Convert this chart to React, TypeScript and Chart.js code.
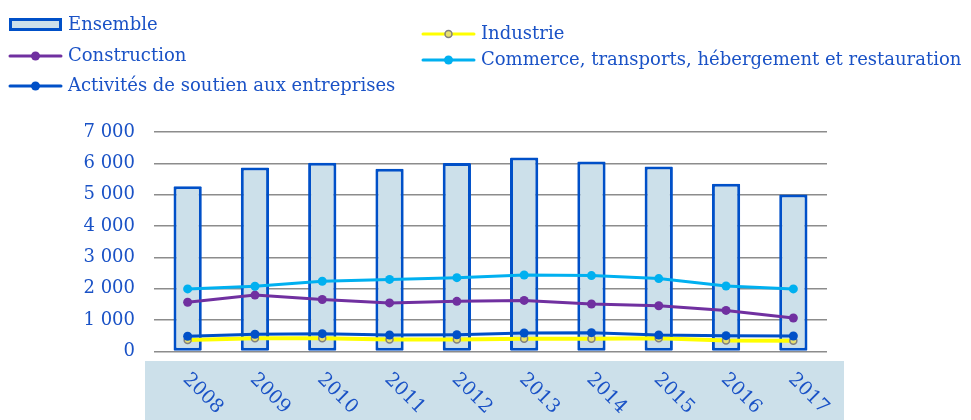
import React, { useEffect, useRef } from 'react';
import { Chart, registerables } from 'chart.js';

Chart.register(...registerables);

// ---- data ----
const years = ['2008', '2009', '2010', '2011', '2012', '2013', '2014', '2015', '2016', '2017'];
const ensemble = [5270, 5870, 6020, 5830, 6010, 6190, 6060, 5900, 5350, 5010];
const industrie = [370, 420, 420, 380, 385, 405, 405, 420, 350, 340];
const construction = [1570, 1800, 1660, 1550, 1600, 1630, 1515, 1460, 1310, 1070];
const commerce = [1995, 2080, 2240, 2300, 2355, 2440, 2420, 2325, 2090, 1995];
const activites = [485, 550, 570, 525, 535, 590, 600, 525, 505, 495];
const yTicks = [0, 1000, 2000, 3000, 4000, 5000, 6000, 7000];

// ---- styles ----
const TEXT = '#1a52c6';
const FONT = '"DejaVu Serif", "Liberation Serif", serif';
const BAR_FILL = '#cce0ea';
const BAR_BORDER = '#0050c8';
const C_CONSTR = '#7030a0';
const C_IND = '#ffff00';
const C_COMM = '#00b0f0';
const C_ACT = '#0050c8';
const GRID = '#8c8c8c';

const fmt = (v: number) => {
  const s = String(Math.round(v));
  return s.length > 3 ? s.slice(0, -3) + ' ' + s.slice(-3) : s;
};

const bandPlugin = {
  id: 'band',
  beforeDraw(chart: any) {
    const { ctx, chartArea, height } = chart;
    ctx.save();
    ctx.fillStyle = BAR_FILL;
    const top = chartArea.bottom + 9.5;
    ctx.fillRect(chartArea.left - 9, top, chartArea.right + 17 - (chartArea.left - 9), height - top);
    ctx.restore();
  },
};

const xLabelPlugin = {
  id: 'xlabels',
  afterDraw(chart: any) {
    const { ctx, chartArea } = chart;
    const xs = chart.scales.x;
    ctx.save();
    ctx.fillStyle = TEXT;
    ctx.font = `19px ${FONT}`;
    ctx.textAlign = 'left';
    ctx.textBaseline = 'middle';
    (chart.data.labels as string[]).forEach((lab, i) => {
      const x = xs.getPixelForTick(i);
      ctx.save();
      ctx.translate(x - 2, chartArea.bottom + 25);
      ctx.rotate(Math.PI / 4);
      ctx.fillText(lab, 0, 0);
      ctx.restore();
    });
    ctx.restore();
  },
};

const legendPlugin = {
  id: 'customLegend',
  afterDraw(chart: any) {
    const { ctx } = chart;
    const ds = chart.data.datasets;
    const items = [
      { i: 0, x: 9, y: 24.5 },
      { i: 3, x: 9, y: 56 },
      { i: 2, x: 9, y: 86 },
      { i: 1, x: 422, y: 34 },
      { i: 4, x: 422, y: 60 },
    ];
    ctx.save();
    ctx.font = `18px ${FONT}`;
    ctx.textBaseline = 'middle';
    ctx.textAlign = 'left';
    items.forEach(({ i, x, y }) => {
      const d = ds[i];
      const w = 53;
      if (d.type === 'bar') {
        ctx.fillStyle = d.backgroundColor;
        ctx.strokeStyle = d.borderColor;
        ctx.lineWidth = 3;
        ctx.fillRect(x + 1.5, y - 5, w - 3, 10);
        ctx.strokeRect(x + 1.5, y - 5, w - 3, 10);
      } else {
        ctx.strokeStyle = d.borderColor;
        ctx.lineWidth = 3;
        ctx.lineCap = 'round';
        ctx.beginPath();
        ctx.moveTo(x + 1, y);
        ctx.lineTo(x + w - 1, y);
        ctx.stroke();
        ctx.beginPath();
        ctx.arc(x + w / 2, y, d.pointRadius, 0, Math.PI * 2);
        ctx.fillStyle = d.pointBackgroundColor;
        ctx.fill();
        if (d.pointBorderWidth) {
          ctx.lineWidth = d.pointBorderWidth;
          ctx.strokeStyle = d.pointBorderColor;
          ctx.stroke();
        }
      }
      ctx.fillStyle = TEXT;
      ctx.fillText(d.label, x + 59, y + 0.5);
    });
    ctx.restore();
  },
};

export default function App() {
  const ref = useRef<HTMLCanvasElement>(null);
  useEffect(() => {
    if (!ref.current) return;
    Chart.defaults.font.family = FONT;
    const chart = new Chart(ref.current, {
      data: {
        labels: years,
        datasets: [
          {
            type: 'bar',
            label: 'Ensemble',
            data: ensemble,
            backgroundColor: BAR_FILL,
            borderColor: BAR_BORDER,
            borderWidth: 3,
            borderSkipped: false,
            borderRadius: 1,
            barPercentage: 0.42,
            categoryPercentage: 1,
            order: 10,
          },
          {
            type: 'line',
            label: 'Industrie',
            data: industrie,
            borderColor: C_IND,
            borderWidth: 4,
            pointRadius: 3.5,
            pointBackgroundColor: '#e8e070',
            pointBorderColor: '#808080',
            pointBorderWidth: 1.5,
            tension: 0,
            order: 5,
          },
          {
            type: 'line',
            label: 'Activités de soutien aux entreprises',
            data: activites,
            borderColor: C_ACT,
            borderWidth: 3,
            pointRadius: 4.5,
            pointBackgroundColor: C_ACT,
            pointBorderWidth: 0,
            tension: 0,
            order: 4,
          },
          {
            type: 'line',
            label: 'Construction',
            data: construction,
            borderColor: C_CONSTR,
            borderWidth: 3,
            pointRadius: 4.5,
            pointBackgroundColor: C_CONSTR,
            pointBorderWidth: 0,
            tension: 0,
            order: 3,
          },
          {
            type: 'line',
            label: 'Commerce, transports, hébergement et restauration',
            data: commerce,
            borderColor: C_COMM,
            borderWidth: 3,
            pointRadius: 4.5,
            pointBackgroundColor: C_COMM,
            pointBorderWidth: 0,
            tension: 0,
            order: 2,
          },
        ] as any,
      },
      options: {
        responsive: false,
        animation: false,
        layout: { padding: { top: 132, right: 144, left: 0, bottom: 0 } },
        plugins: { legend: { display: false }, tooltip: { enabled: false } },
        scales: {
          x: {
            offset: true,
            grid: { display: false },
            border: { display: false },
            ticks: { display: false },
            afterFit: (s: any) => {
              s.height = 68.5;
            },
          },
          y: {
            min: 0,
            max: 7000,
            afterBuildTicks: (s: any) => {
              s.ticks = yTicks.map((v) => ({ value: v }));
            },
            grid: { color: GRID, lineWidth: 1.5, drawTicks: false },
            border: { display: false },
            ticks: {
              color: TEXT,
              font: { size: 18, family: FONT },
              padding: 19,
              callback: (v: any) => fmt(Number(v)),
            },
            afterFit: (s: any) => {
              s.width = 154;
            },
          },
        },
      } as any,
      plugins: [bandPlugin, xLabelPlugin, legendPlugin],
    });
    return () => chart.destroy();
  }, []);
  return (
    <div style={{ position: 'absolute', left: 0, top: 0, width: 971, height: 420, background: '#fff' }}>
      <canvas ref={ref} width={971} height={420} style={{ display: 'block' }} />
    </div>
  );
}
